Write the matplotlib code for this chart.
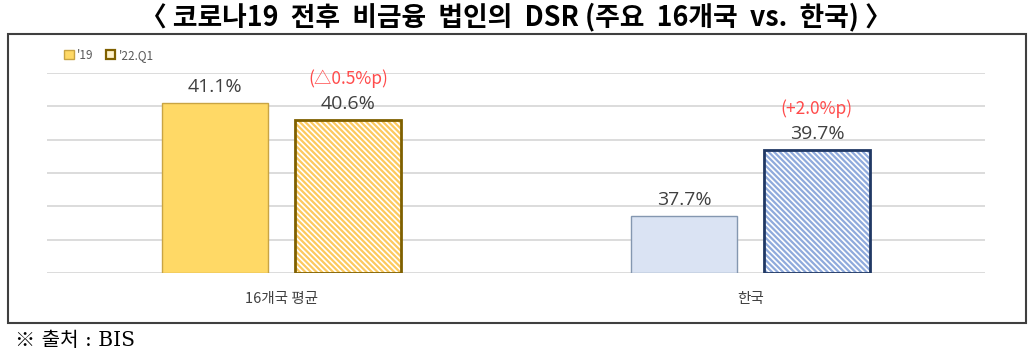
import matplotlib
matplotlib.use('Agg')
import matplotlib.pyplot as plt
from matplotlib.patches import Rectangle, Patch

plt.rcParams['font.family'] = ['Noto Sans CJK KR', 'DejaVu Sans']
plt.rcParams['hatch.linewidth'] = 1.6

# data
categories = ['16개국 평균', '한국']
values_19 = [41.1, 37.7]
values_22 = [40.6, 39.7]
changes = ['(△0.5%p)', '(+2.0%p)']
y_ticks = [36, 37, 38, 39, 40, 41, 42]

# styles per category (Excel point overrides)
fill_19 = ['#FFD966', '#DAE3F3']
edge_19 = ['#C9A443', '#8497B0']
hatch_22 = ['#FCC95E', '#8FAADC']
edge_22 = ['#7F6000', '#203864']


def create_plot():
    fig = plt.figure(figsize=(10.33, 3.55), dpi=100)
    ax = fig.add_axes([0.0455, 0.231, 0.908, 0.563])

    width = 0.226
    offset = 0.1416
    x = range(len(categories))
    num_font = ['Open Sans', 'DejaVu Sans']

    for i in x:
        ax.bar(i - offset, values_19[i] - y_ticks[0], bottom=y_ticks[0], width=width,
               color=fill_19[i], edgecolor=edge_19[i], linewidth=1.0, zorder=3)
        ax.bar(i + offset, values_22[i] - y_ticks[0], bottom=y_ticks[0], width=width,
               color='white', edgecolor=hatch_22[i], hatch='\\\\\\\\\\\\', linewidth=0, zorder=3)
        ax.bar(i + offset, values_22[i] - y_ticks[0], bottom=y_ticks[0], width=width,
               color='none', edgecolor=edge_22[i], linewidth=2.0, zorder=4)

        ax.annotate(f'{values_19[i]:.1f}%', (i - offset, values_19[i]), xytext=(0, 16),
                    textcoords='offset pixels', ha='center', va='center',
                    fontsize=14, color='#404040', family=num_font)
        ax.annotate(f'{values_22[i]:.1f}%', (i + offset, values_22[i]), xytext=(0, 16),
                    textcoords='offset pixels', ha='center', va='center',
                    fontsize=14, color='#404040', family=num_font)
        ax.annotate(changes[i], (i + offset, values_22[i]), xytext=(0, 41),
                    textcoords='offset pixels', ha='center', va='center',
                    fontsize=12.5, color='#FF4B4B')

    ax.set_xlim(-0.5, 1.5)
    ax.set_ylim(y_ticks[0], y_ticks[-1])
    ax.set_yticks(y_ticks)
    ax.yaxis.grid(True, color='#D9D9D9', linewidth=1.3, zorder=0)
    ax.tick_params(axis='y', left=False, labelleft=False)
    ax.tick_params(axis='x', bottom=False, pad=10)
    ax.set_xticks(list(x))
    ax.set_xticklabels(categories, fontsize=10.5, color='#404040')
    for s in ax.spines.values():
        s.set_visible(False)

    handles = [
        Patch(facecolor=fill_19[0], edgecolor=edge_19[0], linewidth=1.0, label="'19"),
        Patch(facecolor='#FFF2CC', edgecolor=edge_22[0], linewidth=1.6, label="'22.Q1"),
    ]
    fig.legend(handles=handles, loc='center left', bbox_to_anchor=(0.052, 0.845),
               ncol=2, frameon=False, fontsize=8.5, handlelength=0.8, handleheight=0.8,
               handletextpad=0.3, columnspacing=1.0, labelcolor='#595959')

    # outer frame
    fig.patches.append(Rectangle((8 / 1033, 1 - 323 / 355), (1026 - 8) / 1033, (323 - 34) / 355,
                                 transform=fig.transFigure, fill=False,
                                 edgecolor='#3F3F3F', linewidth=1.5))

    fig.text(0.4995, 0.951, '〈 코로나19  전후  비금융  법인의  DSR (주요  16개국  vs.  한국) 〉',
             ha='center', va='center', fontsize=19.3, fontweight='bold')
    fig.text(15 / 1033, 1 - 341 / 355, '※ 출처 : BIS', ha='left', va='center',
             fontsize=14.5, family=['DejaVu Serif', 'Noto Sans CJK KR'])

    fig.savefig('out.png', dpi=100)


if __name__ == '__main__':
    create_plot()
